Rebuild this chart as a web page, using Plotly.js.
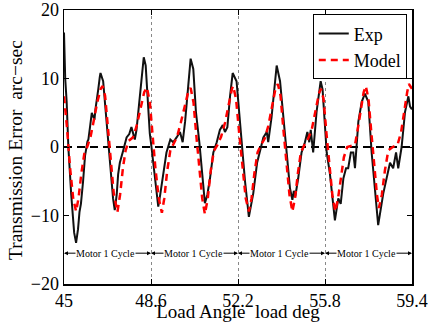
<!DOCTYPE html>
<html>
<head>
<meta charset="utf-8">
<script src="https://cdn.plot.ly/plotly-3.0.1.min.js"></script>
<style>html,body{margin:0;padding:0;background:#fff;}#chart{width:428px;height:322px;}</style>
</head>
<body>
<div id="chart"></div>
<script>
// Measured experimental transmission error (arc-sec) vs load angle (deg)
const expAngle = [45.00,45.05,45.11,45.18,45.30,45.42,45.50,45.58,45.64,45.70,45.79,45.87,45.97,46.01,46.08,46.15,46.20,46.26,46.30,46.35,46.42,46.48,46.51,46.62,46.73,46.80,46.82,46.92,47.03,47.10,47.18,47.24,47.31,47.45,47.59,47.70,47.79,47.93,48.00,48.10,48.20,48.30,48.38,48.48,48.55,48.62,48.78,48.90,48.98,49.10,49.24,49.40,49.52,49.66,49.80,49.91,50.01,50.14,50.24,50.35,50.46,50.60,50.71,50.83,50.93,51.04,51.18,51.32,51.45,51.57,51.66,51.76,51.87,51.98,52.14,52.28,52.35,52.49,52.65,52.83,52.99,53.11,53.25,53.39,53.45,53.59,53.80,53.94,54.14,54.24,54.35,54.45,54.51,54.57,54.69,54.83,54.97,55.07,55.15,55.21,55.31,55.45,55.62,55.70,55.87,56.00,56.21,56.35,56.45,56.56,56.67,56.76,56.87,56.97,57.04,57.18,57.32,57.45,57.59,57.73,57.87,58.00,58.21,58.35,58.49,58.62,58.74,58.83,58.97,59.11,59.25,59.32,59.40];
const expError = [16.7,10.0,6.6,0.0,-7.0,-12.5,-14.0,-12.0,-9.5,-8.3,-5.0,-1.3,0.8,1.1,3.0,5.0,4.5,4.0,5.5,6.6,8.5,10.2,10.8,9.6,5.0,1.5,0.0,-4.0,-7.5,-9.2,-7.0,-4.0,-2.3,-0.5,1.4,1.9,2.9,1.1,2.5,6.0,10.0,13.1,11.9,5.1,2.0,0.0,-5.0,-8.7,-7.0,-4.2,-0.8,1.1,0.7,1.4,2.2,0.7,3.7,8.9,12.9,11.4,5.1,0.7,-4.0,-8.2,-7.0,-4.6,-0.8,0.7,2.5,3.2,2.2,2.9,7.4,10.8,9.6,3.7,0.0,-5.0,-10.2,-6.8,-2.3,-0.4,1.4,2.2,0.7,4.4,11.9,9.6,1.4,-2.3,-6.0,-7.7,-6.4,-7.2,-4.6,-0.8,0.7,2.2,0.7,2.5,-0.8,5.1,9.6,8.4,-0.8,-3.8,-10.7,-7.5,-8.3,-4.6,-3.1,-3.1,-0.8,-0.8,-3.1,3.7,6.6,7.8,6.6,-0.8,-6.8,-11.4,-6.8,-4.6,-2.3,-3.1,-0.8,-3.1,0.0,5.1,7.4,5.9,5.5];

// Model prediction
const modelAngle = [45.00,45.12,45.25,45.38,45.50,45.60,45.72,45.84,45.97,46.10,46.24,46.38,46.52,46.60,46.70,46.82,46.94,47.06,47.21,47.32,47.44,47.55,47.68,47.85,48.00,48.15,48.32,48.43,48.55,48.66,48.78,48.92,49.05,49.15,49.27,49.40,49.52,49.68,49.83,50.00,50.15,50.24,50.36,50.48,50.60,50.72,50.83,50.95,51.07,51.20,51.35,51.50,51.66,51.82,51.95,52.00,52.12,52.25,52.38,52.52,52.65,52.76,52.88,53.01,53.15,53.30,53.45,53.60,53.75,53.85,53.96,54.08,54.20,54.33,54.45,54.56,54.68,54.80,54.95,55.10,55.25,55.40,55.55,55.63,55.74,55.86,55.98,56.11,56.23,56.34,56.46,56.58,56.72,56.90,57.04,57.15,57.28,57.40,57.49,57.60,57.72,57.85,57.95,58.03,58.15,58.28,58.42,58.60,58.80,58.95,59.08,59.20,59.27,59.40];
const modelError = [7.4,3.0,-3.0,-7.5,-9.4,-7.5,-3.8,-1.0,0.1,1.5,4.0,6.6,8.5,8.9,7.5,3.0,-2.5,-6.8,-9.5,-7.0,-3.0,-0.5,0.9,1.4,3.0,5.5,8.0,8.7,6.6,2.0,-3.0,-7.5,-9.6,-7.5,-3.5,-0.5,0.4,1.5,3.5,6.0,8.2,8.6,6.5,1.5,-3.5,-7.5,-9.8,-7.5,-3.5,-0.6,0.3,1.5,3.5,6.5,8.5,8.9,7.0,2.0,-3.0,-7.5,-9.4,-7.5,-3.8,-0.8,0.3,1.2,3.0,6.0,8.5,9.2,7.5,2.5,-2.5,-7.0,-9.4,-7.5,-3.8,-0.8,0.3,1.2,2.5,5.0,7.8,8.5,7.0,2.0,-3.0,-7.2,-9.4,-7.5,-4.5,-1.5,0.0,0.2,0.3,2.5,5.5,8.0,8.9,7.0,2.0,-3.5,-7.0,-8.9,-7.0,-3.4,-0.5,0.0,0.3,2.2,5.5,8.0,9.2,8.5];

const xTicks = [45, 48.6, 52.2, 55.8, 59.4];
const xTickLabels = ["45", "48.6", "52.2", "55.8", "59.4"];
const yTicks = [-20, -10, 0, 10, 20];
const baselineY = [0, 0];
const cycleLabel = "Motor 1 Cycle";
const cycleLabelAngle = [46.70, 50.36, 53.92, 57.52];
const cycleRowY = -15.5;

const serif = "Liberation Serif, Times New Roman, serif";

const traces = [
  {x: [xTicks[0], xTicks[xTicks.length-1]], y: baselineY, mode: "lines",
   line: {color: "#000", width: 2, dash: "8px,5px"}, showlegend: false, hoverinfo: "skip"},
  {x: expAngle, y: expError, mode: "lines", name: "Exp",
   line: {color: "#111", width: 2}},
  {x: modelAngle, y: modelError, mode: "lines", name: "Model",
   line: {color: "#ff0000", width: 2.5, dash: "7px,5px"}}
];

const annotations = [];
for (let i = 0; i < xTicks.length - 1; i++) {
  const a = xTicks[i], b = xTicks[i+1], c = cycleLabelAngle[i];
  annotations.push({x: a, y: cycleRowY, ax: c, ay: cycleRowY, xref: "x", yref: "y", axref: "x", ayref: "y",
    text: "", showarrow: true, arrowhead: 2, arrowsize: 0.8, arrowwidth: 1, arrowcolor: "#000", standoff: 0});
  annotations.push({x: b, y: cycleRowY, ax: c, ay: cycleRowY, xref: "x", yref: "y", axref: "x", ayref: "y",
    text: "", showarrow: true, arrowhead: 2, arrowsize: 0.8, arrowwidth: 1, arrowcolor: "#000", standoff: 0});
  annotations.push({x: c, y: cycleRowY, xref: "x", yref: "y", text: cycleLabel, showarrow: false,
    bgcolor: "#fff", font: {family: serif, size: 10, color: "#000"}, borderpad: 0});
}
// y-axis title
annotations.push({xref: "paper", yref: "paper", x: -0.14, y: 0.49, xanchor: "center", yanchor: "middle",
  text: "Transmission Error\u00a0 arc\u2212sec", textangle: -90, showarrow: false,
  font: {family: serif, size: 19.5, color: "#000"}});

const layout = {
  width: 428, height: 322,
  margin: {l: 64, r: 16, t: 10, b: 38},
  paper_bgcolor: "#fff", plot_bgcolor: "#fff",
  font: {family: serif, color: "#000"},
  showlegend: true,
  legend: {x: 0.985, y: 0.984, xanchor: "right", yanchor: "top",
    bgcolor: "#fff", bordercolor: "#000", borderwidth: 1,
    font: {family: serif, size: 18, color: "#000"}, itemwidth: 30, tracegroupgap: 0},
  xaxis: {range: [45, 59.4], tickvals: xTicks, ticktext: xTickLabels,
    ticks: "inside", ticklen: 5, tickcolor: "#000", mirror: "ticks",
    showline: true, linecolor: "#000", linewidth: 1.5,
    showgrid: true, gridcolor: "#888", griddash: "dot", gridwidth: 1,
    zeroline: false, tickfont: {family: serif, size: 18},
    title: {text: "Load Angle\u00a0 load deg", font: {family: serif, size: 19}, standoff: 0}},
  yaxis: {range: [-20, 20], tickvals: yTicks,
    ticks: "inside", ticklen: 5, tickcolor: "#000", mirror: "ticks",
    showline: true, linecolor: "#000", linewidth: 1.5,
    showgrid: false, zeroline: false, tickfont: {family: serif, size: 18}},
  annotations: annotations
};

Plotly.newPlot("chart", traces, layout, {displayModeBar: false, staticPlot: true});
</script>
</body>
</html>
